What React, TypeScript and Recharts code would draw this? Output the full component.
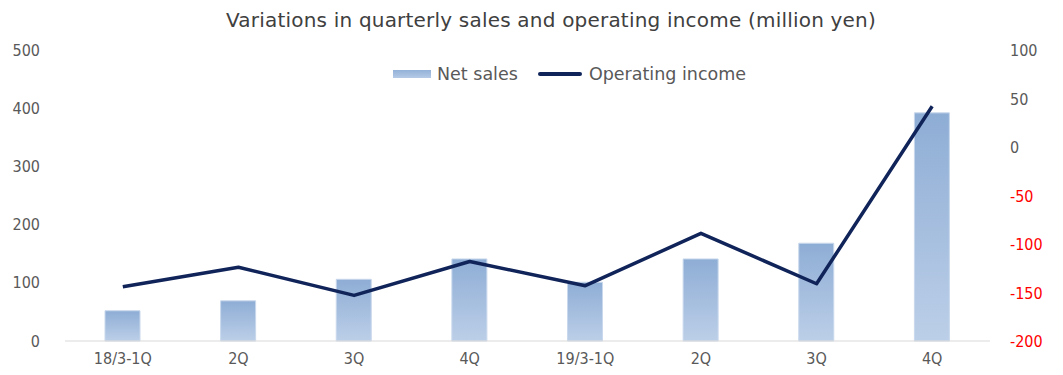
import { Bar, ComposedChart, Line, XAxis, YAxis } from "recharts"

const quarters = ["18/3-1Q", "2Q", "3Q", "4Q", "19/3-1Q", "2Q", "3Q", "4Q"]
const netSales = [52, 69, 106, 141, 101, 141, 168, 392]
const operatingIncome = [-144, -124, -153, -118, -143, -89, -141, 42]
const salesTicks = [0, 100, 200, 300, 400, 500]
const incomeTicks = [-200, -150, -100, -50, 0, 50, 100]

const data = quarters.map((q, i) => ({
    name: q,
    sales: netSales[i],
    income: operatingIncome[i],
}))

const tickFont = "'DejaVu Sans Condensed', 'Liberation Sans Narrow', sans-serif"
const textFont = "'DejaVu Sans', sans-serif"

const RightTick = (props: any) => {
    const { x, y, payload } = props
    return (
        <text x={x} y={y} dy={6} textAnchor="start" fontSize={16} fontFamily={tickFont}
            fill={payload.value < 0 ? "#ff0000" : "#595959"}>
            {payload.value}
        </text>
    )
}

export default function App() {
    return (
        <div style={{ position: "absolute", left: 0, top: 0, width: 1063, height: 375, background: "#fff" }}>
            <ComposedChart width={1063} height={375} data={data}
                margin={{ top: 50, right: 0, bottom: 0, left: 0 }}>
                <defs>
                    <linearGradient id="barFill" x1="0" y1="0" x2="0" y2="1">
                        <stop offset="0%" stopColor="#8eadd5" />
                        <stop offset="100%" stopColor="#bccfe8" />
                    </linearGradient>
                </defs>
                <XAxis dataKey="name" height={34} tickLine={false} stroke="#d9d9d9"
                    tick={{ fill: "#595959", fontSize: 16, fontFamily: tickFont }} tickMargin={6} />
                <YAxis yAxisId="left" width={65} domain={[0, 500]} ticks={salesTicks}
                    axisLine={false} tickLine={false} tickSize={0} tickMargin={25} interval={0}
                    tick={{ fill: "#595959", fontSize: 16, fontFamily: tickFont }} />
                <YAxis yAxisId="right" orientation="right" width={73} domain={[-200, 100]}
                    ticks={incomeTicks} axisLine={false} tickLine={false} tickSize={0}
                    tickMargin={20} interval={0} tick={<RightTick />} />
                <Bar yAxisId="left" dataKey="sales" name="Net sales" barSize={35}
                    fill="url(#barFill)" stroke="#c9d8ec" strokeWidth={1} isAnimationActive={false} />
                <Line yAxisId="right" dataKey="income" name="Operating income" stroke="#10245a"
                    strokeWidth={3.5} dot={false} strokeLinejoin="round" isAnimationActive={false} />
                <text x={551} y={27} textAnchor="middle" fontSize={20} fontFamily={textFont}
                    fill="#404040" letterSpacing={0.2}>
                    Variations in quarterly sales and operating income (million yen)
                </text>
            </ComposedChart>
            <div style={{
                position: "absolute", top: 64, left: 393, display: "flex", alignItems: "center",
                fontFamily: textFont, fontSize: 17.5, color: "#595959", whiteSpace: "nowrap",
            }}>
                <span style={{ width: 38, height: 8, background: "linear-gradient(#93b1d8, #b5cae6)", marginRight: 6 }} />
                <span style={{ marginRight: 20 }}>Net sales</span>
                <span style={{ width: 44, height: 4, background: "#10245a", borderRadius: 2, marginRight: 7 }} />
                <span>Operating income</span>
            </div>
        </div>
    )
}
